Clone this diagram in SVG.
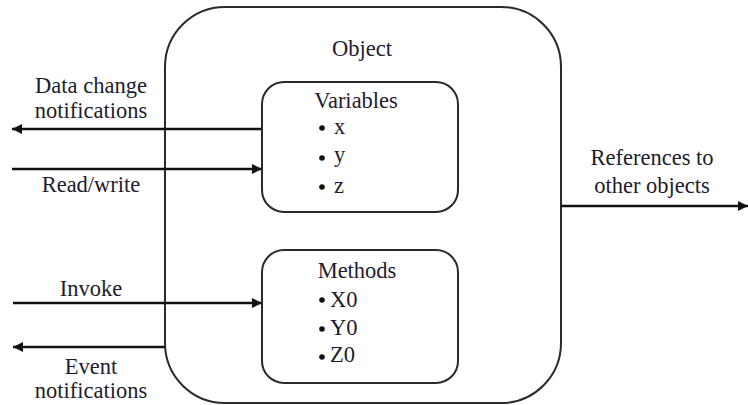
<svg xmlns="http://www.w3.org/2000/svg" width="748" height="405" viewBox="0 0 748 405">
  <defs>
    <marker id="head" viewBox="0 0 10 10" refX="10" refY="5" markerWidth="11" markerHeight="10" markerUnits="userSpaceOnUse" orient="auto">
      <path d="M0,0 L10,5 L0,10 z" fill="#111"/>
    </marker>
    <style>
      .box { fill: #fff; stroke: #2a2a2a; stroke-width: 2; }
      .wire { fill: none; stroke: #111; stroke-width: 2.5; }
      text { font-family: "Liberation Serif", "Times New Roman", serif; font-size: 22.5px; fill: #1c1c2e; }
      .mid { text-anchor: middle; }
      .dot { fill: #111; }
    </style>
  </defs>
  <rect width="748" height="405" fill="#fff"/>

  <!-- object container -->
  <g id="object">
    <rect class="box" x="165" y="7" width="396" height="396" rx="60" ry="60"/>
    <text class="mid" x="362" y="56" font-size="23.5">Object</text>
  </g>

  <!-- connectors -->
  <g id="connectors">
    <line class="wire" x1="262" y1="129" x2="12" y2="129" marker-end="url(#head)"/>
    <line class="wire" x1="12" y1="169" x2="262" y2="169" marker-end="url(#head)"/>
    <line class="wire" x1="13" y1="303" x2="262" y2="303" marker-end="url(#head)"/>
    <line class="wire" x1="165" y1="347" x2="13" y2="347" marker-end="url(#head)"/>
    <line class="wire" x1="561" y1="206" x2="748" y2="206" marker-end="url(#head)"/>
  </g>

  <!-- variables -->
  <g id="variables">
    <rect class="box" x="262" y="82" width="196" height="130" rx="22" ry="22"/>
    <text class="mid" x="356" y="108">Variables</text>
    <circle class="dot" cx="322" cy="128" r="2.8"/>
    <text x="334" y="134">x</text>
    <circle class="dot" cx="322" cy="158" r="2.8"/>
    <text x="334" y="162">y</text>
    <circle class="dot" cx="322" cy="187" r="2.8"/>
    <text x="334" y="193">z</text>
  </g>

  <!-- methods -->
  <g id="methods">
    <rect class="box" x="262" y="250" width="196" height="133" rx="22" ry="22"/>
    <text class="mid" x="357" y="278">Methods</text>
    <circle class="dot" cx="322" cy="300" r="2.8"/>
    <text x="330" y="307">X0</text>
    <circle class="dot" cx="322" cy="329" r="2.8"/>
    <text x="330" y="335">Y0</text>
    <circle class="dot" cx="322" cy="357" r="2.8"/>
    <text x="330" y="362">Z0</text>
  </g>

  <!-- connector labels -->
  <g id="labels">
    <text class="mid" x="91" y="93">Data change</text>
    <text class="mid" x="91" y="118">notifications</text>
    <text class="mid" x="91" y="192">Read/write</text>
    <text class="mid" x="91" y="296">Invoke</text>
    <text class="mid" x="91" y="374">Event</text>
    <text class="mid" x="91" y="398">notifications</text>
    <text class="mid" x="652" y="165">References to</text>
    <text class="mid" x="652" y="193">other objects</text>
  </g>
</svg>
